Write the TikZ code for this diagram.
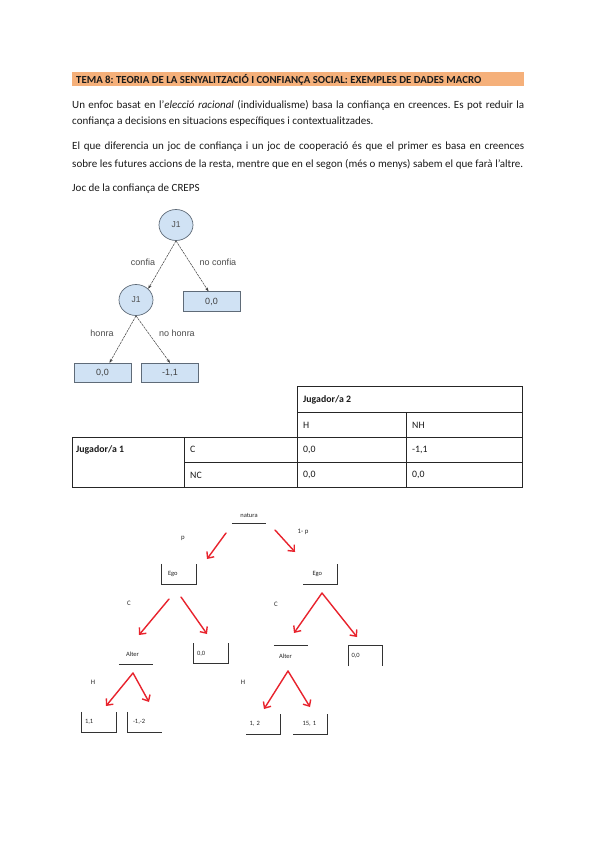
\documentclass[tikz,border=0pt]{standalone}
\usepackage{fontspec}
\setmainfont{Carlito}
\newfontfamily\arialf{Liberation Sans}
\usetikzlibrary{arrows.meta,shapes.geometric}
\definecolor{hdr}{HTML}{F5B07A}
\definecolor{lblue}{HTML}{D0E2F4}
\definecolor{bord}{HTML}{5F6B78}
\definecolor{redar}{HTML}{E8232D}
\definecolor{txt}{HTML}{1A1A1A}
\frenchspacing
\begin{document}
\begin{tikzpicture}[x=1pt,y=-1pt,
  bodytext/.style={anchor=west,inner sep=0,text=txt,font=\fontsize{11}{13}\selectfont},
  celltext/.style={anchor=west,inner sep=0,text=txt,font=\fontsize{9.8}{11}\selectfont},
  circnode/.style={ellipse,draw=bord,fill=lblue,line width=0.7pt,minimum width=34pt,minimum height=31pt,inner sep=0,text=black!70,font=\arialf\fontsize{8.5}{9}\selectfont},
  payoff/.style={rectangle,draw=bord,fill=lblue,line width=0.7pt,minimum width=57pt,minimum height=19.5pt,inner sep=0,text=black!75,font=\arialf\fontsize{9}{10}\selectfont},
  treelbl/.style={inner sep=0,text=black!70,font=\arialf\fontsize{9}{10}\selectfont},
  treearrow/.style={-{Stealth[length=4pt,width=3pt]},line width=0.5pt,black!75,dash pattern=on 2.5pt off 0.8pt},
  smallbox/.style={rectangle,minimum width=34pt,minimum height=20pt,inner sep=0,text width=28pt,align=left,font=\fontsize{6.5}{7}\selectfont,text=black!85},
  smalllbl/.style={inner sep=0,font=\fontsize{6.8}{7}\selectfont,text=black!85},
  boxline/.style={line width=1.1pt,black!80},
  tabline/.style={line width=0.9pt,black!85},
  redarrow/.style={-{Straight Barb[length=5pt,width=9pt,line width=1.4pt]},line width=1.4pt,redar,line cap=round,line join=round}
]
\useasboundingbox (0,0) rectangle (600,848);
\fill[white] (0,0) rectangle (600,848);

% header
\fill[hdr] (72,72) rectangle (524,86);
\node[anchor=west,inner sep=0,font=\bfseries\fontsize{10.8}{12}\selectfont,text=txt] (title) at (76,79.5) {TEMA 8: TEORIA DE LA SENYALITZACIÓ I CONFIANÇA SOCIAL: EXEMPLES DE DADES MACRO};

% paragraphs
\node[bodytext] (p1a) at (72,105) {\makebox[452pt][s]{Un enfoc basat en l’\textit{elecció racional} (individualisme) basa la confiança en creences. Es pot reduir la}};
\node[bodytext] (p1b) at (72,122) {confiança a decisions en situacions específiques i contextualitzades.};
\node[bodytext] (p2a) at (72,147) {\makebox[452pt][s]{El que diferencia un joc de confiança i un joc de cooperació és que el primer es basa en creences}};
\node[bodytext] (p2b) at (72,164) {\makebox[451pt][s]{sobre les futures accions de la resta, mentre que en el segon (més o menys) sabem el que farà l’altre.}};
\node[bodytext] (joc) at (72,189) {Joc de la confiança de CREPS};

% tree 1
\node[circnode] (j1) at (176,225) {J1};
\node[circnode] (j2) at (136,300) {J1};
\node[payoff] (r00) at (211.5,301.5) {0,0};
\node[payoff] (l00) at (102.5,373) {0,0};
\node[payoff] (m11) at (170,373) {-1,1};
\draw[treearrow] (j1.south) -- (j2.north east);
\draw[treearrow] (j1.south) -- ([xshift=-3pt]r00.north);
\draw[treearrow] (j2.south) -- ([xshift=7pt]l00.north);
\draw[treearrow] (j2.south) -- (m11.north);
\node[treelbl] (lconf) at (143,262) {confia};
\node[treelbl] (lnoconf) at (218,262) {no confia};
\node[treelbl] (lhon) at (102,333) {honra};
\node[treelbl] (lnohon) at (177,333) {no honra};

% table
\draw[tabline] (297.7,386.7) -- (522.7,386.7) -- (522.7,487.3) -- (72.7,487.3) -- (72.7,437.3) -- (297.7,437.3) -- cycle;
\draw[tabline] (297.7,437.3) -- (297.7,487.3);
\draw[tabline] (297.7,412.7) -- (522.7,412.7);
\draw[tabline] (297.7,437.3) -- (522.7,437.3);
\draw[tabline] (184.3,462.5) -- (522.7,462.5);
\draw[tabline] (184.3,437.3) -- (184.3,487.3);
\draw[tabline] (406.7,412.7) -- (406.7,487.3);
\node[celltext,font=\bfseries\fontsize{9.8}{11}\selectfont] (tj2) at (303,400) {Jugador/a 2};
\node[celltext] (th) at (303,425) {H};
\node[celltext] (tnh) at (412,425) {NH};
\node[celltext,font=\bfseries\fontsize{9.8}{11}\selectfont] (tj1) at (76,449.5) {Jugador/a 1};
\node[celltext] (tc) at (190,449.5) {C};
\node[celltext] (tnc) at (190,475) {NC};
\node[celltext] (t1) at (303,449.5) {0,0};
\node[celltext] (t2) at (412,449.5) {-1,1};
\node[celltext] (t3) at (303,475) {0,0};
\node[celltext] (t4) at (412,475) {0,0};

% tree 2
\node[smallbox,align=center,minimum height=15pt] (natura) at (249,515.5) {natura};
\draw[boxline] (natura.south west) -- (natura.south east);
\node[smalllbl] (lp) at (183,538) {p};
\node[smalllbl] (l1p) at (303,532) {1- p};

\node[smallbox] (ego1) at (179,574) {\hspace*{3pt}Ego};
\draw[boxline] (ego1.north west) -- (ego1.south west) -- (ego1.south east) -- (ego1.north east);
\node[smallbox] (ego2) at (320.5,574) {\hspace*{6pt}Ego};
\draw[boxline] (ego2.south west) -- (ego2.south east) -- (ego2.north east);

\coordinate (n1) at (226,533);
\coordinate (n1e) at (207,559);
\coordinate (n2) at (275,530);
\coordinate (n2e) at (295,552);
\draw[redarrow] (n1) -- (n1e);
\draw[redarrow] (n2) -- (n2e);

\node[smalllbl] (lc1) at (129,603) {C};
\node[smalllbl] (lc2) at (276,604) {C};

\node[smallbox] (alter1) at (136,654) {\hspace*{4pt}Alter};
\draw[boxline] (alter1.south west) -- (alter1.south east);
\node[smallbox] (z1) at (211,653.5) {0,0};
\draw[boxline] (z1.north west) -- (z1.south west) -- (z1.south east) -- (z1.north east);
\node[smallbox] (alter2) at (291,656) {\hspace*{2pt}Alter};
\draw[boxline] (alter2.north west) -- (alter2.north east);
\node[smallbox] (z2) at (365.5,656) {0,0};
\draw[boxline] (z2.south west) -- (z2.north west) -- (z2.north east) -- (z2.south east);

\coordinate (e1a) at (169,599);
\coordinate (e1ae) at (139,635);
\coordinate (e1b) at (181,597);
\coordinate (e1be) at (207,634);
\draw[redarrow] (e1a) -- (e1ae);
\draw[redarrow] (e1b) -- (e1be);
\coordinate (e2) at (322,593);
\coordinate (e2a) at (294,633);
\coordinate (e2b) at (357,637);
\draw[redarrow] (e2) -- (e2a);
\draw[redarrow] (e2) -- (e2b);

\node[smalllbl] (lh1) at (93,682) {H};
\node[smalllbl] (lh2) at (243,682) {H};

\node[smallbox] (b11) at (99,722) {1,1};
\draw[boxline] (b11.north west) -- (b11.south west) -- (b11.south east) -- (b11.north east);
\node[smallbox] (bm12) at (145,722) {\hspace*{2pt}-1,-2};
\draw[boxline] (bm12.north west) -- (bm12.south west) -- (bm12.south east);
\node[smallbox] (b12) at (263.5,724) {1, 2};
\draw[boxline] (b12.south west) -- (b12.south east) -- (b12.north east);
\node[smallbox] (b151) at (310.5,724) {\hspace*{6pt}15, 1};
\draw[boxline] (b151.south west) -- (b151.south east) -- (b151.north east);

\coordinate (a1) at (133,673);
\coordinate (a1a) at (106,706);
\coordinate (a1b) at (149,702);
\draw[redarrow] (a1) -- (a1a);
\draw[redarrow] (a1) -- (a1b);
\coordinate (a2) at (288,671);
\coordinate (a2a) at (264,709);
\coordinate (a2b) at (310,707);
\draw[redarrow] (a2) -- (a2a);
\draw[redarrow] (a2) -- (a2b);
\end{tikzpicture}
\end{document}
